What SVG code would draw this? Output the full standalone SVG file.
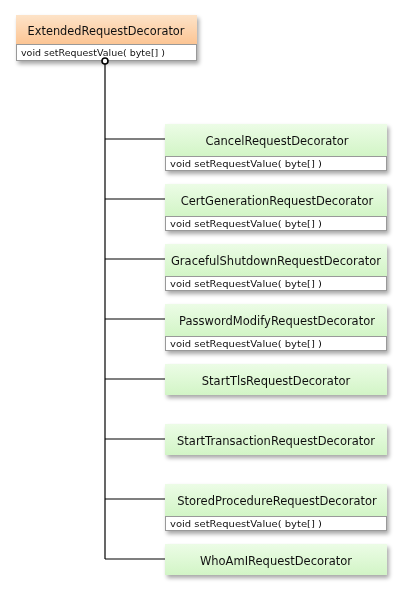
<svg xmlns="http://www.w3.org/2000/svg" width="401" height="589" viewBox="0 0 401 589">
<defs>
<linearGradient id="gOrange" x1="0" y1="0" x2="0" y2="1">
<stop offset="0" stop-color="#fde3c8"/>
<stop offset="1" stop-color="#fcc594"/>
</linearGradient>
<linearGradient id="gGreen" x1="0" y1="0" x2="0" y2="1">
<stop offset="0" stop-color="#ecfce6"/>
<stop offset="1" stop-color="#d2f5c6"/>
</linearGradient>
<filter id="shadow" x="-10%" y="-10%" width="130%" height="140%">
<feGaussianBlur in="SourceAlpha" stdDeviation="2"/>
<feOffset dx="2" dy="3" result="b"/>
<feComponentTransfer><feFuncA type="linear" slope="0.35"/></feComponentTransfer>
<feMerge><feMergeNode/><feMergeNode in="SourceGraphic"/></feMerge>
</filter>
</defs>
<style>
.title{font-family:"DejaVu Sans","Liberation Sans",sans-serif;font-size:11.5px;fill:#111;text-anchor:middle}
.meth{font-family:"DejaVu Sans","Liberation Sans",sans-serif;font-size:9.5px;fill:#111}
.hdrO{fill:url(#gOrange);stroke:none}
.hdrG{fill:url(#gGreen);stroke:none}
.row{fill:#fff;stroke:#999;stroke-width:1}
.conn{stroke:#000;stroke-width:1.2;fill:none}
</style>
<rect width="401" height="589" fill="#fff"/>
<g id="connectors">
<line class="conn" x1="105" y1="64" x2="105" y2="559"/>
<line class="conn" x1="105" y1="139" x2="165" y2="139"/>
<line class="conn" x1="105" y1="199" x2="165" y2="199"/>
<line class="conn" x1="105" y1="259" x2="165" y2="259"/>
<line class="conn" x1="105" y1="319" x2="165" y2="319"/>
<line class="conn" x1="105" y1="379" x2="165" y2="379"/>
<line class="conn" x1="105" y1="439" x2="165" y2="439"/>
<line class="conn" x1="105" y1="499" x2="165" y2="499"/>
<line class="conn" x1="105" y1="559" x2="165" y2="559"/>
</g>
<g id="ExtendedRequestDecorator" filter="url(#shadow)">
<rect class="hdrO" x="16" y="15" width="181" height="29"/>
<rect class="row" x="16.5" y="44.5" width="180" height="16"/>
<text class="title" x="106" y="35" textLength="157" lengthAdjust="spacingAndGlyphs">ExtendedRequestDecorator</text>
<text class="meth" x="21" y="56" textLength="144" lengthAdjust="spacingAndGlyphs">void setRequestValue( byte[] )</text>
</g>
<circle cx="105" cy="61" r="3" fill="#fff" stroke="#000" stroke-width="1.6"/>
<g id="CancelRequestDecorator" filter="url(#shadow)">
<rect class="hdrG" x="165" y="124" width="222" height="32"/>
<rect class="row" x="165.5" y="156.5" width="221" height="14"/>
<text class="title" x="277" y="145">CancelRequestDecorator</text>
<text class="meth" x="170" y="167" textLength="152" lengthAdjust="spacingAndGlyphs">void setRequestValue( byte[] )</text>
</g>
<g id="CertGenerationRequestDecorator" filter="url(#shadow)">
<rect class="hdrG" x="165" y="184" width="222" height="32"/>
<rect class="row" x="165.5" y="216.5" width="221" height="14"/>
<text class="title" x="277" y="205">CertGenerationRequestDecorator</text>
<text class="meth" x="170" y="227" textLength="152" lengthAdjust="spacingAndGlyphs">void setRequestValue( byte[] )</text>
</g>
<g id="GracefulShutdownRequestDecorator" filter="url(#shadow)">
<rect class="hdrG" x="165" y="244" width="222" height="32"/>
<rect class="row" x="165.5" y="276.5" width="221" height="14"/>
<text class="title" x="276" y="265">GracefulShutdownRequestDecorator</text>
<text class="meth" x="170" y="287" textLength="152" lengthAdjust="spacingAndGlyphs">void setRequestValue( byte[] )</text>
</g>
<g id="PasswordModifyRequestDecorator" filter="url(#shadow)">
<rect class="hdrG" x="165" y="304" width="222" height="32"/>
<rect class="row" x="165.5" y="336.5" width="221" height="14"/>
<text class="title" x="277" y="325">PasswordModifyRequestDecorator</text>
<text class="meth" x="170" y="347" textLength="152" lengthAdjust="spacingAndGlyphs">void setRequestValue( byte[] )</text>
</g>
<g id="StartTlsRequestDecorator" filter="url(#shadow)">
<rect class="hdrG" x="165" y="364" width="222" height="31"/>
<text class="title" x="276" y="385">StartTlsRequestDecorator</text>
</g>
<g id="StartTransactionRequestDecorator" filter="url(#shadow)">
<rect class="hdrG" x="165" y="424" width="222" height="31"/>
<text class="title" x="276" y="445">StartTransactionRequestDecorator</text>
</g>
<g id="StoredProcedureRequestDecorator" filter="url(#shadow)">
<rect class="hdrG" x="165" y="484" width="222" height="32"/>
<rect class="row" x="165.5" y="516.5" width="221" height="14"/>
<text class="title" x="277" y="505">StoredProcedureRequestDecorator</text>
<text class="meth" x="170" y="527" textLength="152" lengthAdjust="spacingAndGlyphs">void setRequestValue( byte[] )</text>
</g>
<g id="WhoAmIRequestDecorator" filter="url(#shadow)">
<rect class="hdrG" x="165" y="544" width="222" height="31"/>
<text class="title" x="276" y="565">WhoAmIRequestDecorator</text>
</g>
</svg>
